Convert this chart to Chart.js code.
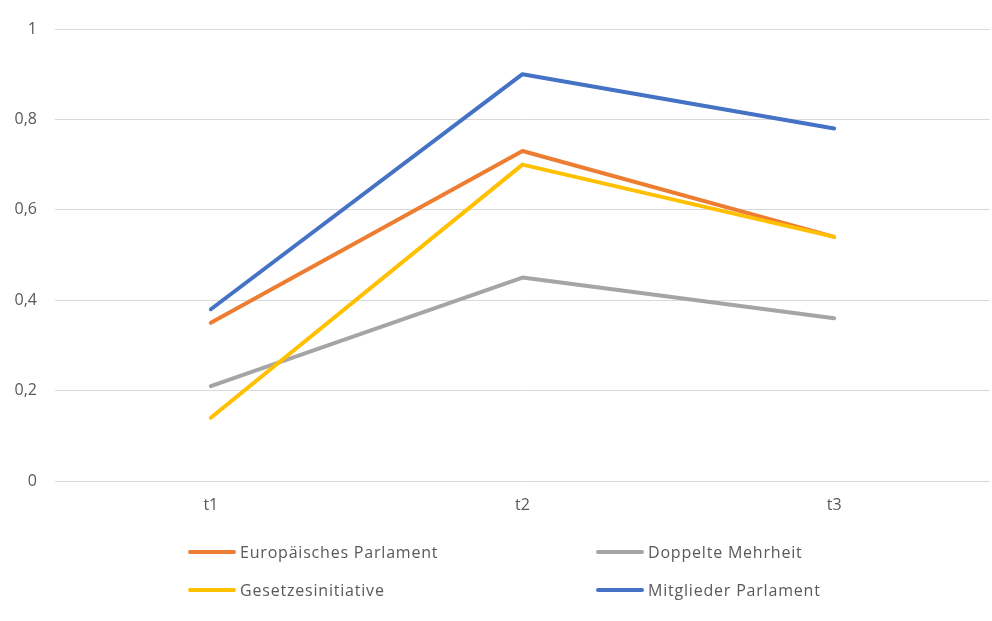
<!DOCTYPE html>
<html>
<head>
<meta charset="utf-8">
<script src="https://cdn.jsdelivr.net/npm/chart.js@4/dist/chart.umd.min.js"></script>
<style>
  html, body { margin: 0; padding: 0; background: #fff; }
  #wrap { position: relative; width: 992px; height: 621px; }
  #c { position: absolute; left: 0; top: 0; }
  .leg { position: absolute; font-family: "Open Sans", sans-serif; font-size: 16px; letter-spacing: 0.8px; color: #595959; display: flex; align-items: center; white-space: nowrap; }
  .leg span.sw { display: inline-block; width: 48px; height: 4px; border-radius: 2px; margin-right: 4px; }
</style>
</head>
<body>
<div id="wrap">
  <canvas id="c" width="992" height="621"></canvas>
</div>
<script>
const categories = ["t1", "t2", "t3"];
const seriesNames = ["Europäisches Parlament", "Doppelte Mehrheit", "Gesetzesinitiative", "Mitglieder Parlament"];
const europaeischesParlament = [0.35, 0.73, 0.54];
const doppelteMehrheit = [0.21, 0.45, 0.36];
const gesetzesinitiative = [0.14, 0.70, 0.54];
const mitgliederParlament = [0.38, 0.90, 0.78];
const yTicks = [0, 0.2, 0.4, 0.6, 0.8, 1];
const colors = ["#ED7D31", "#A5A5A5", "#FFC000", "#4472C4"];

const values = [europaeischesParlament, doppelteMehrheit, gesetzesinitiative, mitgliederParlament];
const datasets = values.map((v, i) => ({
  label: seriesNames[i],
  data: v,
  borderColor: colors[i],
  backgroundColor: colors[i],
  borderWidth: 4,
  borderCapStyle: 'round',
  borderJoinStyle: 'round',
  pointRadius: 0,
  tension: 0,
  fill: false,
  order: 4 - i
}));

const fontFamily = '"Open Sans", sans-serif';
new Chart(document.getElementById('c'), {
  type: 'line',
  data: { labels: categories, datasets },
  options: {
    responsive: false,
    animation: false,
    layout: { padding: { left: 0, right: 2, top: 29, bottom: 98 } },
    plugins: { legend: { display: false }, tooltip: { enabled: false } },
    scales: {
      x: {
        offset: true,
        grid: { display: false, drawTicks: false },
        border: { display: false },
        ticks: { color: '#595959', font: { family: fontFamily, size: 16 }, padding: 15 },
        afterFit: s => { s.height = 42; }
      },
      y: {
        min: 0, max: 1,
        afterBuildTicks: s => { s.ticks = yTicks.map(v => ({ value: v })); },
        grid: { color: '#D9D9D9', lineWidth: 1, drawTicks: false },
        border: { display: false },
        ticks: {
          color: '#595959', font: { family: fontFamily, size: 16 }, padding: 18,
          callback: v => String(Math.round(v * 10) / 10).replace('.', ',')
        },
        afterFit: s => { s.width = 55; }
      }
    }
  },
  plugins: [{
    id: 'htmlLegend',
    afterRender(chart) {
      if (document.querySelector('.leg')) return;
      const pos = [[188, 552], [596, 552], [188, 590], [596, 590]];
      chart.data.datasets.forEach((ds, i) => {
        const d = document.createElement('div');
        d.className = 'leg';
        d.style.left = pos[i][0] + 'px';
        d.style.top = (pos[i][1] - 10) + 'px';
        d.style.height = '20px';
        const sw = document.createElement('span');
        sw.className = 'sw';
        sw.style.background = ds.borderColor;
        d.appendChild(sw);
        d.appendChild(document.createTextNode(ds.label));
        document.getElementById('wrap').appendChild(d);
      });
    }
  }]
});
</script>
</body>
</html>
